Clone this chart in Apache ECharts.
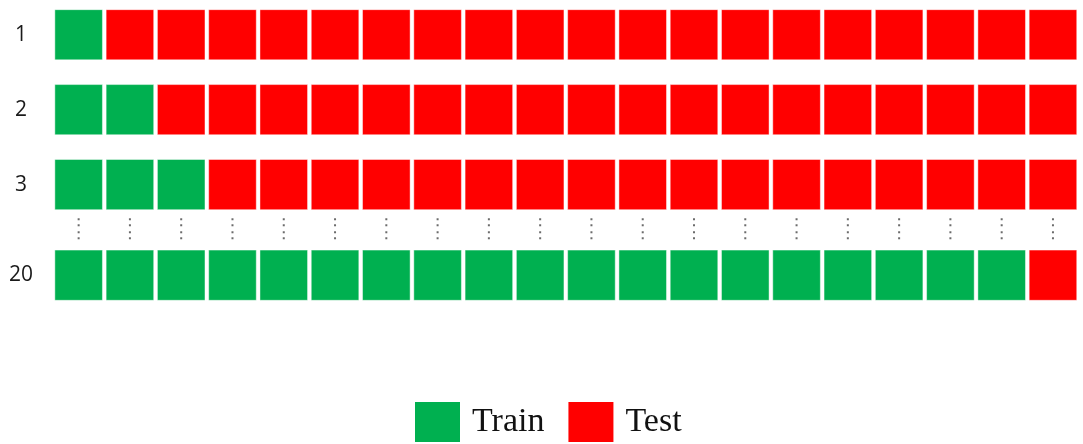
<!DOCTYPE html>
<html>
<head>
<meta charset="utf-8">
<script src="https://cdn.jsdelivr.net/npm/echarts@6/dist/echarts.min.js"></script>
<style>
  html, body { margin: 0; padding: 0; background: #fff; }
  #chart { width: 1083px; height: 444px; }
</style>
</head>
<body>
<div id="chart"></div>
<script>
  // blocks along each row
  const blocks = ['1','2','3','4','5','6','7','8','9','10',
                  '11','12','13','14','15','16','17','18','19','20'];
  // rows shown (row 4..19 skipped with the dots)
  const foldLabels = ['1', '2', '3', '20'];
  // how many blocks at the start of each row are train
  const trainCounts = [1, 2, 3, 19];

  // layout: row slots on the y scale (gap before the last row)
  const rowSlots = [0, 1, 2, 3.21];
  const dotsSlot = 2.59;

  const GREEN = '#00b050', RED = '#ff0000';

  let trainData = [], testData = [], dotsData = [];
  foldLabels.forEach(function (lab, r) {
    blocks.forEach(function (b, c) {
      if (c < trainCounts[r]) trainData.push([c, rowSlots[r]]);
      else testData.push([c, rowSlots[r]]);
    });
  });
  blocks.forEach(function (b, c) { dotsData.push([c, dotsSlot]); });

  function cellItem(params, api) {
    let p = api.coord([api.value(0), api.value(1)]);
    let w = api.size([1, 0])[0] * 0.928;
    let h = api.size([0, 1])[1] * 0.67;
    return {
      type: 'rect',
      shape: { x: p[0] - w / 2, y: p[1] - h / 2, width: w, height: h },
      style: { fill: api.visual('color'), stroke: 'rgba(255,255,255,0.45)', lineWidth: 1 }
    };
  }

  function dotsItem(params, api) {
    let p = api.coord([api.value(0), api.value(1)]);
    let offs = [-9.5, -3.5, 3.5, 9.5];
    return {
      type: 'group',
      children: offs.map(function (o) {
        return {
          type: 'rect',
          shape: { x: p[0] - 1, y: p[1] + o - 1, width: 2, height: 2 },
          style: { fill: '#6b6b6b' }
        };
      })
    };
  }

  let chart = echarts.init(document.getElementById('chart'));
  let option = {
    animation: false,
    grid: { left: 53, top: 0, width: 1025.6, height: 300 },
    legend: {
      data: ['Train', 'Test'],
      left: 415,
      bottom: 2,
      padding: 0,
      icon: 'rect',
      itemWidth: 45,
      itemHeight: 40,
      itemGap: 24,
      textStyle: {
        fontFamily: '"Liberation Serif", "DejaVu Serif", serif',
        fontSize: 34,
        color: '#111',
        padding: [0, 0, 0, 7]
      }
    },
    xAxis: {
      type: 'category',
      data: blocks,
      show: false
    },
    yAxis: {
      type: 'value',
      inverse: true,
      min: -0.464,
      max: 3.541,
      axisLine: { show: false },
      axisTick: { show: false },
      splitLine: { show: false },
      axisLabel: {
        customValues: rowSlots,
        align: 'center',
        margin: 32,
        fontFamily: '"Open Sans", "Noto Sans", sans-serif',
        fontSize: 21,
        color: '#1a1a1a',
        padding: [4, 0, 0, 0],
        formatter: function (v) {
          let i = rowSlots.indexOf(v);
          return i >= 0 ? foldLabels[i] : '';
        }
      }
    },
    series: [
      { name: 'Train', type: 'custom', renderItem: cellItem, data: trainData,
        itemStyle: { color: GREEN }, encode: { x: 0, y: 1 } },
      { name: 'Test', type: 'custom', renderItem: cellItem, data: testData,
        itemStyle: { color: RED }, encode: { x: 0, y: 1 } },
      { name: 'dots', type: 'custom', renderItem: dotsItem, data: dotsData,
        silent: true, encode: { x: 0, y: 1 } }
    ]
  };
  chart.setOption(option);
</script>
</body>
</html>
